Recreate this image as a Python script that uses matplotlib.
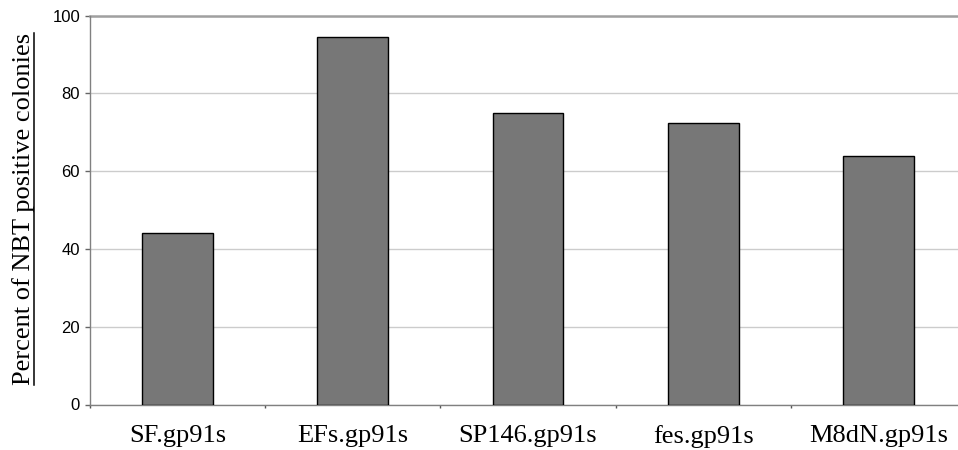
import matplotlib
matplotlib.use("Agg")
import matplotlib.pyplot as plt
from matplotlib.lines import Line2D
import numpy as np

# Data
categories = ["SF.gp91s", "EFs.gp91s", "SP146.gp91s", "fes.gp91s", "M8dN.gp91s"]
percent_positive = [44.2, 94.5, 75.0, 72.5, 63.8]
y_ticks = [0, 20, 40, 60, 80, 100]

W, H = 958, 450
fig = plt.figure(figsize=(W / 100, H / 100), dpi=100)
ax = fig.add_axes([90 / W, 45.5 / H, 876 / W, 388.8 / H])

x = np.arange(len(categories))
ax.bar(x, percent_positive, width=0.405, color="#777777",
       edgecolor="black", linewidth=1.0, zorder=3)

ax.set_xlim(-0.5, len(categories) - 0.5)
ax.set_ylim(0, 100)

# Horizontal gridlines
ax.set_yticks(y_ticks)
ax.yaxis.grid(True, color="#cccccc", linewidth=1.0, zorder=0)
ax.set_axisbelow(True)
ax.axhline(100, color="#a0a0a0", linewidth=1.8, clip_on=False, zorder=1)

# Spines
for s in ("top", "right"):
    ax.spines[s].set_visible(False)
for s in ("left", "bottom"):
    ax.spines[s].set_color("#808080")
    ax.spines[s].set_linewidth(1.0)

# Y tick labels (sans)
ax.tick_params(axis="y", direction="out", length=3.6, width=1.0,
               color="#666666", pad=3.6)
for lbl in ax.get_yticklabels():
    lbl.set_fontfamily("Liberation Sans")
    lbl.set_fontsize(12)

# Category labels centred under bars, tick marks at category boundaries
ax.set_xticks(x)
ax.set_xticklabels(categories, fontfamily="Liberation Serif", fontsize=19)
ax.tick_params(axis="x", which="major", length=0, pad=15)
ax.set_xticks(np.arange(len(categories) + 1) - 0.5, minor=True)
ax.tick_params(axis="x", which="minor", direction="out", length=2.5,
               width=1.0, color="#555555")

# Underlined y-axis title
ylab = fig.text(30.5 / W, 1 - 209 / H, "Percent of NBT positive colonies",
                rotation=90, rotation_mode="anchor", ha="center", va="baseline",
                fontfamily="Liberation Serif", fontsize=19)
fig.canvas.draw()
bb = ylab.get_window_extent(fig.canvas.get_renderer())
ux = 33.5
fig.add_artist(Line2D([ux / W, ux / W], [bb.y0 / H, bb.y1 / H],
                      transform=fig.transFigure, color="black", linewidth=1.1))

fig.savefig("out.png", dpi=100)
